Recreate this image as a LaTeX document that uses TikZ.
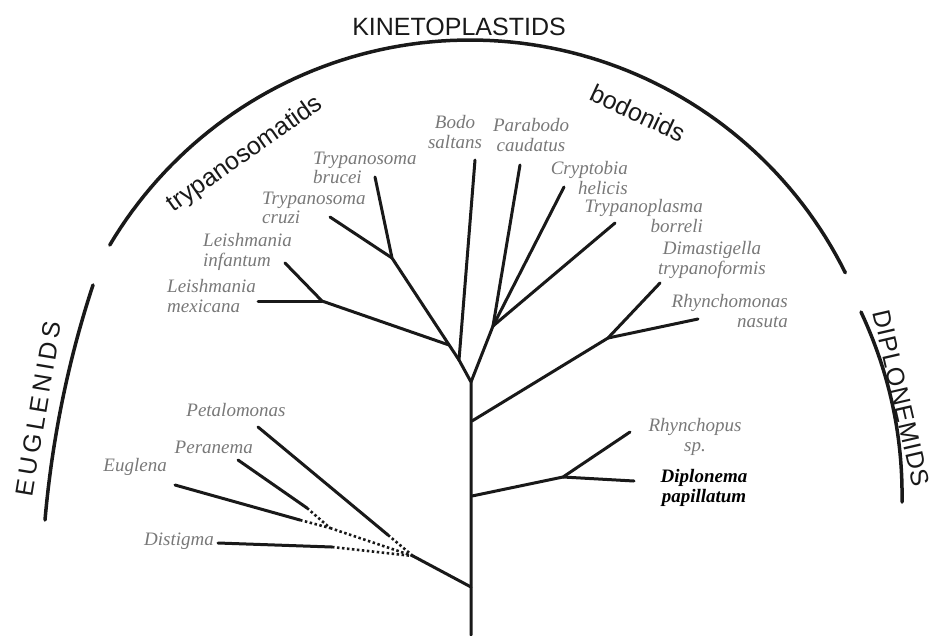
\documentclass[tikz,border=0pt]{standalone}
\usepackage{fontspec}
\setmainfont{Liberation Serif}
\newfontfamily\grpfont{Liberation Sans}
\definecolor{lbl}{RGB}{120,120,120}
\definecolor{ink}{RGB}{25,25,25}
\tikzset{
  br/.style={draw=ink, line width=3pt, line cap=round, line join=round},
  dotline/.style={draw=ink, line width=2.6pt, dash pattern=on 2.5pt off 2.5pt},
  grp/.style={draw=ink, line width=3.5pt, line cap=round},
  sp/.style={font=\fontsize{19}{19.5}\selectfont\itshape, text=lbl, inner sep=0pt},
  glab/.style={font=\grpfont\fontsize{25}{25}\selectfont, text=ink, anchor=base, inner sep=0pt},
}
\begin{document}
\begin{tikzpicture}[x=1pt,y=-1pt]
\useasboundingbox (0,0) rectangle (933,635);

% group arcs
\draw[grp] plot[domain=26.4:149.3, samples=90] ({470+419*cos(\x)},{459-419*sin(\x)});
\draw[grp] (93,285) .. controls (68,361) and (52,440) .. (45,520);
\draw[grp] (861,312) .. controls (889,372) and (903,435) .. (902,502);

% group labels
\node[glab] (kin) at (459,35) {KINETOPLASTIDS};
\node[glab, rotate=35] (tryg) at (249,160) {trypanosomatids};
\node[glab, rotate=-25] (bodg) at (634,121) {bodonids};
\node[glab, rotate=80.5, font=\grpfont\fontsize{25}{25}\selectfont\addfontfeature{LetterSpace=16}] (eugg) at (47,410) {EUGLENIDS};
\node[glab, rotate=-77, font=\grpfont\fontsize{25}{25}\selectfont\addfontfeature{LetterSpace=3}] (dipg) at (893,400) {DIPLONEMIDS};

% tree coordinates
\coordinate (rootb) at (471,635);
\coordinate (A) at (471,382);
\coordinate (B) at (459,360);
\coordinate (C) at (449,345);
\coordinate (D) at (392,258);
\coordinate (E) at (322,301);
\coordinate (bodo) at (475,160);
\coordinate (tbru) at (375,177);
\coordinate (tcru) at (330,217);
\coordinate (linf) at (285,263);
\coordinate (lmex) at (258,301);
\coordinate (F) at (493,326);
\coordinate (para) at (520,165);
\coordinate (cryp) at (564,187);
\coordinate (tpl) at (615,223);
\coordinate (G) at (472,421);
\coordinate (H) at (608,338);
\coordinate (dim) at (660,283);
\coordinate (rhm) at (698,319);
\coordinate (I) at (472,496);
\coordinate (J) at (563,477);
\coordinate (rhp) at (630,432);
\coordinate (dip) at (634,481);
\coordinate (K) at (471,587);
\coordinate (L) at (413,556);
\coordinate (M) at (330,528);
\coordinate (petS) at (258,427);
\coordinate (petE) at (388,535);
\coordinate (perS) at (238,460);
\coordinate (perE) at (307,508);
\coordinate (eugS) at (175,485);
\coordinate (eugE) at (300,520);
\coordinate (disS) at (218,543);
\coordinate (disE) at (332,547);

% branches
\draw[br] (rootb) -- (A) -- (B) -- (bodo);
\draw[br] (B) -- (D) -- (tbru);
\draw[br] (D) -- (tcru);
\draw[br] (C) -- (E) -- (linf);
\draw[br] (E) -- (lmex);
\draw[br] (A) -- (F) -- (para);
\draw[br] (F) -- (cryp);
\draw[br] (F) -- (tpl);
\draw[br] (G) -- (H) -- (dim);
\draw[br] (H) -- (rhm);
\draw[br] (I) -- (J) -- (rhp);
\draw[br] (J) -- (dip);
\draw[br] (K) -- (L);
\draw[br] (petS) -- (petE);
\draw[br] (perS) -- (perE);
\draw[br] (eugS) -- (eugE);
\draw[br] (disS) -- (disE);
\draw[dotline] (petE) -- (L);
\draw[dotline] (perE) -- (M);
\draw[dotline] (eugE) -- (M);
\draw[dotline] (M) -- (L);
\draw[dotline] (disE) -- (L);

% species labels
\node[sp, align=left, anchor=west] (lmexL) at (167,296) {Leishmania\\mexicana};
\node[sp, align=left, anchor=west] (linfL) at (203,252) {Leishmania\\infantum};
\node[sp, align=left, anchor=west] (tcruL) at (262,208) {Trypanosoma\\cruzi};
\node[sp, align=left, anchor=west] (tbruL) at (313,168) {Trypanosoma\\brucei};
\node[sp, align=center] (bodoL) at (455,132) {Bodo\\saltans};
\node[sp, align=center] (paraL) at (531,135) {Parabodo\\caudatus};
\node[sp, align=right, anchor=east] (crypL) at (628,178) {Cryptobia\\helicis};
\node[sp, align=right, anchor=east] (tplL) at (703,216) {Trypanoplasma\\borreli};
\node[sp, align=center] (dimL) at (712,260) {Dimastigella\\trypanoformis};
\node[sp, align=right, anchor=east] (rhmL) at (788,311) {Rhynchomonas\\nasuta};
\node[sp, align=center] (rhpL) at (695,437) {Rhynchopus\\sp.};
\node[sp, align=center, text=black, font=\fontsize{19}{19.5}\selectfont\bfseries\itshape] (dipL) at (704,488) {Diplonema\\papillatum};
\node[sp] (petL) at (236,410) {Petalomonas};
\node[sp, anchor=east] (perL) at (253,447) {Peranema};
\node[sp, anchor=east] (eugL) at (167,467) {Euglena};
\node[sp, anchor=east] (disL) at (214,541) {Distigma};
\end{tikzpicture}
\end{document}
